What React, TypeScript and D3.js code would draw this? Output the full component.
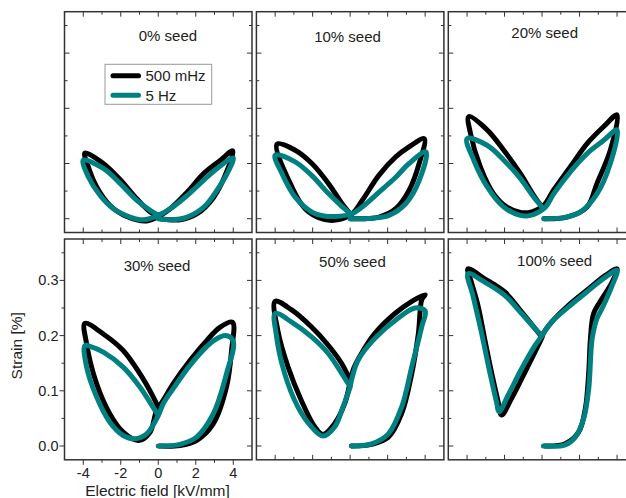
import React from "react";
import * as d3 from "d3";

type Pt = [number, number];

// panel titles, series, ticks
const seedLabels = ["0% seed", "10% seed", "20% seed", "30% seed", "50% seed", "100% seed"];
const seriesNames = ["500 mHz", "5 Hz"];
const seriesColors = ["#000000", "#008080"];
const xTickLabels = [-4, -2, 0, 2, 4];
const yTickLabels = [0.0, 0.1, 0.2, 0.3];

// strain [%] vs field [kV/mm] (virgin branch first)
const seed0_500mHz: Pt[] = [
  [0.1, 0], [1.18, -0.002], [2.07, 0.009], [2.96, 0.039], [3.68, 0.088], [3.97, 0.123],
  [3.32, 0.106], [2.43, 0.082], [1.54, 0.048], [0.64, 0.018], [0.0, 0.004],
  [-0.61, -0.004], [-1.68, 0.004], [-2.57, 0.024], [-3.29, 0.058], [-3.73, 0.094], [-3.91, 0.119],
  [-2.93, 0.1], [-2.04, 0.071], [-1.14, 0.036], [-0.43, 0.012], [0.0, 0.004],
];
const seed0_5Hz: Pt[] = [
  [0.0, 0.0], [0.64, -0.002], [1.54, 0.003], [2.43, 0.021], [3.14, 0.052], [3.68, 0.082], [4.0, 0.11],
  [3.14, 0.091], [2.43, 0.07], [1.54, 0.042], [0.64, 0.018], [0.0, 0.006],
  [-0.79, -0.002], [-1.5, 0.003], [-2.39, 0.018], [-3.1, 0.042], [-3.73, 0.076], [-4.0, 0.106],
  [-2.93, 0.091], [-2.04, 0.064], [-1.14, 0.033], [-0.43, 0.015], [0.0, 0.006],
];

const seed10_500mHz: Pt[] = [
  [0.05, 0], [1.54, 0.003], [2.43, 0.018], [3.14, 0.051], [3.68, 0.1], [3.95, 0.145],
  [3.14, 0.13], [2.43, 0.112], [1.54, 0.079], [0.64, 0.033], [0.1, 0.009],
  [-0.88, -0.003], [-1.68, 0.002], [-2.4, 0.018], [-3.1, 0.057], [-3.9, 0.135],
  [-2.93, 0.124], [-2.04, 0.1], [-1.14, 0.063], [-0.43, 0.027], [0.0, 0.009],
];
const seed10_5Hz: Pt[] = [
  [0.0, 0.0], [1.18, 0.001], [2.07, 0.006], [2.96, 0.027], [3.68, 0.069], [4.04, 0.121],
  [3.14, 0.1], [2.43, 0.075], [1.54, 0.048], [0.64, 0.021], [0.1, 0.009],
  [-0.8, 0.004], [-1.4, 0.005], [-2.04, 0.012], [-2.93, 0.039], [-3.64, 0.082], [-4.0, 0.115],
  [-2.93, 0.103], [-2.04, 0.078], [-1.14, 0.045], [-0.43, 0.022], [0.0, 0.01],
];

const seed20_500mHz: Pt[] = [
  [0.1, 0], [1.33, 0.003], [2.4, 0.021], [2.93, 0.064], [3.64, 0.124], [4.0, 0.188],
  [3.29, 0.167], [2.4, 0.136], [1.51, 0.094], [0.62, 0.052], [0.09, 0.024],
  [-0.5, 0.013], [-1.1, 0.011], [-1.87, 0.021], [-2.58, 0.045], [-3.29, 0.094], [-3.82, 0.155], [-3.91, 0.185],
  [-2.93, 0.161], [-2.04, 0.124], [-1.16, 0.082], [-0.44, 0.042], [0.0, 0.021],
];
const seed20_5Hz: Pt[] = [
  [0.09, 0], [1.16, 0.002], [2.04, 0.012], [2.93, 0.045], [3.64, 0.1], [4.0, 0.161],
  [3.29, 0.142], [2.4, 0.118], [1.51, 0.085], [0.62, 0.045], [0.18, 0.021],
  [-0.62, 0.006], [-1.16, 0.006], [-2.04, 0.021], [-2.93, 0.058], [-3.64, 0.106], [-4.0, 0.145],
  [-2.93, 0.133], [-2.04, 0.106], [-1.16, 0.073], [-0.44, 0.039], [0.0, 0.021],
];

const seed30_500mHz: Pt[] = [
  [0.09, 0], [1.16, 0.001], [2.04, 0.01], [2.93, 0.04], [3.64, 0.107], [3.91, 0.173], [3.96, 0.224],
  [3.29, 0.215], [2.58, 0.191], [1.69, 0.155], [0.8, 0.113], [0.27, 0.083], [-0.09, 0.064],
  [-0.44, 0.025], [-1.05, 0.01], [-1.87, 0.025], [-2.58, 0.058], [-3.29, 0.113], [-3.82, 0.185], [-3.91, 0.222],
  [-2.93, 0.203], [-1.87, 0.173], [-0.98, 0.131], [-0.27, 0.089], [0.0, 0.07],
];
const seed30_5Hz: Pt[] = [
  [0.0, 0.0], [1.16, 0.003], [2.04, 0.016], [2.93, 0.058], [3.64, 0.131], [4.0, 0.19],
  [3.6, 0.2], [3.0, 0.192], [2.58, 0.18], [1.69, 0.146], [0.8, 0.104], [0.27, 0.077], [0.0, 0.055],
  [-0.62, 0.022], [-1.25, 0.013], [-1.87, 0.019], [-2.58, 0.043], [-3.29, 0.089], [-3.82, 0.143], [-3.91, 0.182],
  [-3.6, 0.18], [-2.93, 0.17], [-1.87, 0.143], [-0.98, 0.107], [-0.27, 0.07], [0.0, 0.055],
];

const seed50_500mHz: Pt[] = [
  [0.07, 0], [1.14, 0.003], [2.04, 0.016], [2.75, 0.059], [3.29, 0.132], [3.64, 0.204], [3.82, 0.265], [4.0, 0.274],
  [3.29, 0.262], [2.39, 0.24], [1.32, 0.204], [0.61, 0.168], [0.16, 0.138], [0.0, 0.115],
  [-0.29, 0.077], [-0.82, 0.041], [-1.45, 0.021], [-1.89, 0.035], [-2.61, 0.083], [-3.32, 0.144], [-3.86, 0.21], [-4.0, 0.262],
  [-3.14, 0.247], [-2.07, 0.216], [-1.18, 0.183], [-0.46, 0.15], [0.0, 0.119],
];
const seed50_5Hz: Pt[] = [
  [0.07, 0], [1.14, 0.004], [2.04, 0.022], [2.75, 0.071], [3.29, 0.144], [3.82, 0.216], [4.0, 0.245],
  [3.46, 0.25], [2.57, 0.232], [1.32, 0.195], [0.43, 0.156], [0.07, 0.119], [0.0, 0.107],
  [-0.38, 0.071], [-0.82, 0.035], [-1.45, 0.018], [-2.07, 0.035], [-2.79, 0.071], [-3.5, 0.132], [-3.95, 0.204], [-4.0, 0.24],
  [-3.14, 0.225], [-2.07, 0.198], [-1.18, 0.168], [-0.46, 0.132], [0.0, 0.107],
];

const seed100_500mHz: Pt[] = [
  [0.16, 0], [1.23, 0.004], [1.95, 0.025], [2.31, 0.068], [2.49, 0.134], [2.58, 0.194], [2.75, 0.24], [3.2, 0.267], [3.74, 0.297], [4.0, 0.321],
  [3.38, 0.309], [2.49, 0.285], [1.41, 0.255], [0.52, 0.225], [0.07, 0.204], [0.0, 0.197],
  [-0.38, 0.17], [-0.91, 0.134], [-1.63, 0.086], [-2.16, 0.056],
  [-2.34, 0.08], [-2.7, 0.134], [-3.06, 0.194], [-3.42, 0.255], [-3.77, 0.297], [-3.95, 0.321],
  [-3.06, 0.303], [-1.99, 0.279], [-1.09, 0.243], [-0.38, 0.213], [0.0, 0.197],
];
const seed100_5Hz: Pt[] = [
  [0.07, 0], [1.23, 0.002], [1.77, 0.016], [2.22, 0.05], [2.49, 0.104], [2.67, 0.194], [2.93, 0.231], [3.2, 0.249], [3.74, 0.291], [4.0, 0.318],
  [3.38, 0.306], [2.49, 0.282], [1.41, 0.252], [0.52, 0.225], [0.07, 0.204], [0.0, 0.2],
  [-0.38, 0.182], [-1.09, 0.14], [-1.81, 0.092], [-2.29, 0.062],
  [-2.43, 0.08], [-2.79, 0.134], [-3.24, 0.207], [-3.69, 0.273], [-3.95, 0.312],
  [-3.06, 0.297], [-1.99, 0.273], [-1.09, 0.24], [-0.38, 0.213], [0.0, 0.2],
];

const panelCurves: Pt[][][] = [
  [seed0_500mHz, seed0_5Hz],
  [seed10_500mHz, seed10_5Hz],
  [seed20_500mHz, seed20_5Hz],
  [seed30_500mHz, seed30_5Hz],
  [seed50_500mHz, seed50_5Hz],
  [seed100_500mHz, seed100_5Hz],
];

// layout
const W = 626;
const H = 498;
const panelW = 187.5;
const panelH = 220.8;
const colX = [64.5, 256.4, 448.3];
const rowY = [11.7, 239];
// title placement inside each panel (dx from centre, baseline from top)
const titlePos = [
  [9.7, 29], [-2.6, 30], [2.6, 26.6],
  [-1.2, 31.7], [2.3, 28.3], [12.6, 26.7],
];

const font = "'Liberation Sans', Arial, sans-serif";
const axisColor = "#333";
const textColor = "#222";

export default function App() {
  const x = d3.scaleLinear().domain([-5, 5]).range([0, panelW]);
  const y = d3.scaleLinear().domain([-0.025, 0.375]).range([panelH, 0]);
  const line = d3
    .line<Pt>()
    .x((d) => x(d[0]))
    .y((d) => y(d[1]))
    .curve(d3.curveCatmullRom.alpha(0.5));

  const xMinor = d3.range(-4, 5, 1);
  const yMinor = d3.range(0, 0.351, 0.05);

  return (
    <svg
      width={W}
      height={H}
      style={{ position: "absolute", left: 0, top: 0, background: "#fff" }}
      fontFamily={font}
    >
      <rect width={W} height={H} fill="#fff" />
      {panelCurves.map((series, i) => {
        const col = i % 3;
        const row = Math.floor(i / 3);
        const labelled = i === 3;
        const [tdx, tdy] = titlePos[i];
        return (
          <g key={i} transform={`translate(${colX[col]},${rowY[row]})`}>
            {/* ticks */}
            {xMinor.map((t) => {
              const len = t % 2 === 0 ? 5 : 3;
              const bx = x(t);
              return (
                <g key={"x" + t} stroke={axisColor} strokeWidth={1}>
                  <line x1={bx} x2={bx} y1={0} y2={len} />
                  {labelled ? (
                    <line x1={bx} x2={bx} y1={panelH} y2={panelH + len} />
                  ) : (
                    <line x1={bx} x2={bx} y1={panelH} y2={panelH - len} />
                  )}
                </g>
              );
            })}
            {yMinor.map((t) => {
              const major = Math.round(t * 100) % 10 === 0;
              const len = major ? 5 : 3;
              const by = y(t);
              return (
                <g key={"y" + t} stroke={axisColor} strokeWidth={1}>
                  <line x1={panelW} x2={panelW - len} y1={by} y2={by} />
                  {labelled ? (
                    <line x1={0} x2={-len} y1={by} y2={by} />
                  ) : (
                    <line x1={0} x2={len} y1={by} y2={by} />
                  )}
                </g>
              );
            })}
            {labelled &&
              xTickLabels.map((t) => (
                <text
                  key={"xl" + t}
                  x={x(t)}
                  y={panelH + 18}
                  textAnchor="middle"
                  fontSize={14.5}
                  fill={textColor}
                >
                  {t < 0 ? "-" + Math.abs(t) : t}
                </text>
              ))}
            {labelled &&
              yTickLabels.map((t) => (
                <text
                  key={"yl" + t}
                  x={-6}
                  y={y(t) + 5}
                  textAnchor="end"
                  fontSize={14.5}
                  fill={textColor}
                >
                  {t.toFixed(1)}
                </text>
              ))}
            {/* loops */}
            {series.map((pts, s) => (
              <path
                key={s}
                d={line(pts) ?? ""}
                fill="none"
                stroke={seriesColors[s]}
                strokeWidth={5}
                strokeLinecap="round"
                strokeLinejoin="round"
              />
            ))}
            <rect
              x={0}
              y={0}
              width={panelW}
              height={panelH}
              fill="none"
              stroke={axisColor}
              strokeWidth={1.5}
            />
            <text
              x={panelW / 2 + tdx}
              y={tdy}
              textAnchor="middle"
              fontSize={15}
              fill={textColor}
            >
              {seedLabels[i]}
            </text>
            {i === 0 && (
              <g transform="translate(40.5,52.6)">
                <rect width={106.7} height={40} fill="#fff" stroke="#999" strokeWidth={1} />
                {seriesNames.map((name, s) => (
                  <g key={name} transform={`translate(0,${11.5 + s * 19.5})`}>
                    <line
                      x1={8}
                      x2={33.5}
                      y1={0}
                      y2={0}
                      stroke={seriesColors[s]}
                      strokeWidth={5}
                      strokeLinecap="round"
                    />
                    <text x={40.5} y={5.3} fontSize={15} fill={textColor}>
                      {name}
                    </text>
                  </g>
                ))}
              </g>
            )}
          </g>
        );
      })}
      <text
        x={157.5}
        y={496}
        textAnchor="middle"
        fontSize={15.5}
        fill={textColor}
      >
        Electric field [kV/mm]
      </text>
      <text
        transform="translate(22,345.8) rotate(-90)"
        textAnchor="middle"
        fontSize={15.5}
        fill={textColor}
      >
        Strain [%]
      </text>
    </svg>
  );
}
